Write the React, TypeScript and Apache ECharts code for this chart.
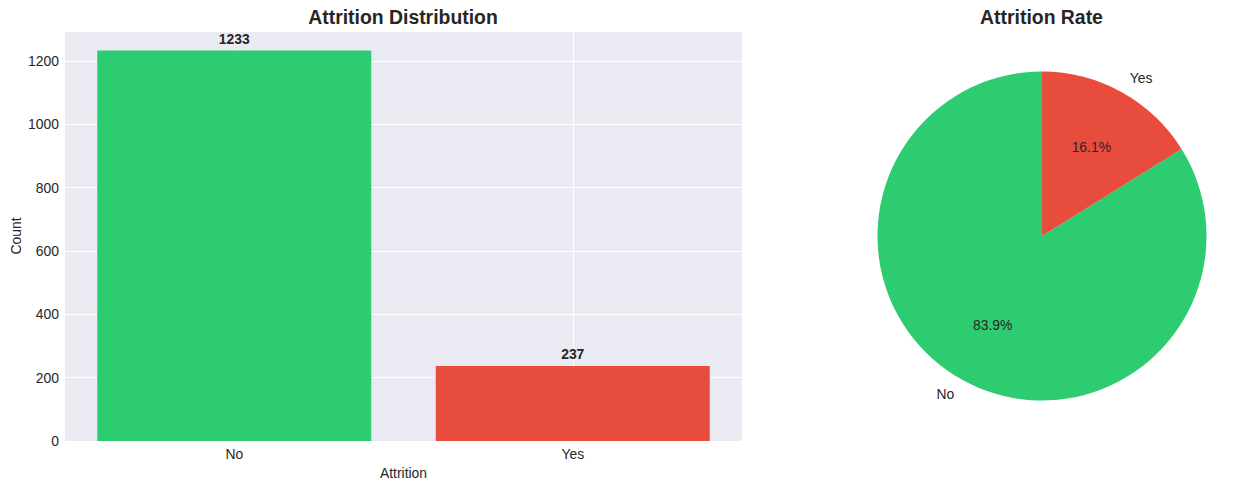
import React, { useEffect, useRef } from "react";
import * as echarts from "echarts";

const categories = ["No", "Yes"];
const counts = [1233, 237];
const sliceColors = ["#2ecc71", "#e74c3c"];
const yMax = 1294.65;
const yInterval = 200;
const barTitle = "Attrition Distribution";
const pieTitle = "Attrition Rate";
const xName = "Attrition";
const yName = "Count";

const FONT = "'Liberation Sans', Arial, sans-serif";
const TXT = "#262626";
const FS = 13.9;

export default function App() {
  const ref = useRef<HTMLDivElement>(null);
  useEffect(() => {
    if (!ref.current) return;
    const chart = echarts.init(ref.current, undefined, { renderer: "svg" });
    const total = counts.reduce((a, b) => a + b, 0);
    const pieData = categories.map((c, i) => ({
      name: c,
      value: counts[i],
      itemStyle: { color: sliceColors[i] },
    }));
    const R = 164.5;
    chart.setOption({
      animation: false,
      backgroundColor: "#ffffff",
      textStyle: { fontFamily: FONT, color: TXT },
      title: [
        {
          text: barTitle,
          left: 398,
          top: 2,
          textAlign: "center",
          textStyle: { fontFamily: FONT, fontSize: 19.4, fontWeight: "bold", color: TXT },
        },
        {
          text: pieTitle,
          left: 1036.5,
          top: 2,
          textAlign: "center",
          textStyle: { fontFamily: FONT, fontSize: 19.4, fontWeight: "bold", color: TXT },
        },
      ],
      grid: {
        left: 65,
        right: 514,
        top: 31,
        bottom: 49,
        show: true,
        containLabel: false,
        outerBoundsMode: "none",
        backgroundColor: "#EAEAF2",
        borderWidth: 0,
      },
      xAxis: [
        {
          type: "category",
          data: categories,
          name: xName,
          nameLocation: "middle",
          nameGap: 25,
          nameMoveOverlap: false,
          nameTextStyle: { fontFamily: FONT, fontSize: FS, color: TXT },
          axisLine: { show: false },
          axisTick: { show: false },
          splitLine: { show: false },
          axisLabel: { fontFamily: FONT, fontSize: FS, color: TXT, margin: 6 },
        },
        {
          type: "category",
          position: "top",
          boundaryGap: false,
          data: ["a", "b", "c", "d", "e"],
          axisLine: { show: false },
          axisTick: { show: false },
          axisLabel: { show: false },
          splitLine: {
            show: true,
            interval: (index: number) => index === 1 || index === 3,
            lineStyle: { color: "#ffffff", width: 1 },
          },
        },
      ],
      yAxis: {
        type: "value",
        min: 0,
        max: yMax,
        interval: yInterval,
        name: yName,
        nameLocation: "middle",
        nameGap: 42,
        nameMoveOverlap: false,
        nameRotate: 90,
        nameTextStyle: { fontFamily: FONT, fontSize: FS, color: TXT },
        axisLine: { show: false },
        axisTick: { show: false },
        axisLabel: {
          fontFamily: FONT,
          fontSize: FS,
          color: TXT,
          margin: 6,
          showMaxLabel: false,
          formatter: (v: number) => (v % yInterval === 0 ? String(v) : ""),
        },
        splitLine: { show: true, lineStyle: { color: "#ffffff", width: 1 } },
      },
      series: [
        {
          type: "bar",
          xAxisIndex: 0,
          yAxisIndex: 0,
          barWidth: 274,
          z: 2,
          data: counts.map((v, i) => ({ value: v, itemStyle: { color: sliceColors[i] } })),
          label: {
            show: true,
            position: "top",
            distance: 5,
            fontFamily: FONT,
            fontSize: FS,
            fontWeight: "bold",
            color: TXT,
          },
        },
        {
          type: "pie",
          center: [1042, 236],
          radius: R,
          startAngle: 90,
          clockwise: false,
          avoidLabelOverlap: false,
          silent: true,
          data: pieData,
          label: {
            show: true,
            position: "outside",
            formatter: "{b}",
            distanceToLabelLine: 0,
            fontFamily: FONT,
            fontSize: FS,
            color: TXT,
          },
          labelLine: { show: false, length: R * 0.1, length2: 0 },
        },
        {
          type: "pie",
          center: [1042, 236],
          radius: [R * 0.2, R],
          startAngle: 90,
          clockwise: false,
          avoidLabelOverlap: false,
          silent: true,
          data: categories.map((c, i) => ({
            name: c,
            value: counts[i],
            itemStyle: { color: "rgba(0,0,0,0)" },
          })),
          label: {
            show: true,
            position: "inside",
            formatter: (p: any) => ((p.value / total) * 100).toFixed(1) + "%",
            fontFamily: FONT,
            fontSize: FS,
            color: TXT,
          },
          labelLine: { show: false },
        },
      ],
    });
    return () => chart.dispose();
  }, []);
  return (
    <div
      ref={ref}
      style={{ position: "fixed", left: 0, top: 0, width: 1256, height: 490 }}
    />
  );
}
